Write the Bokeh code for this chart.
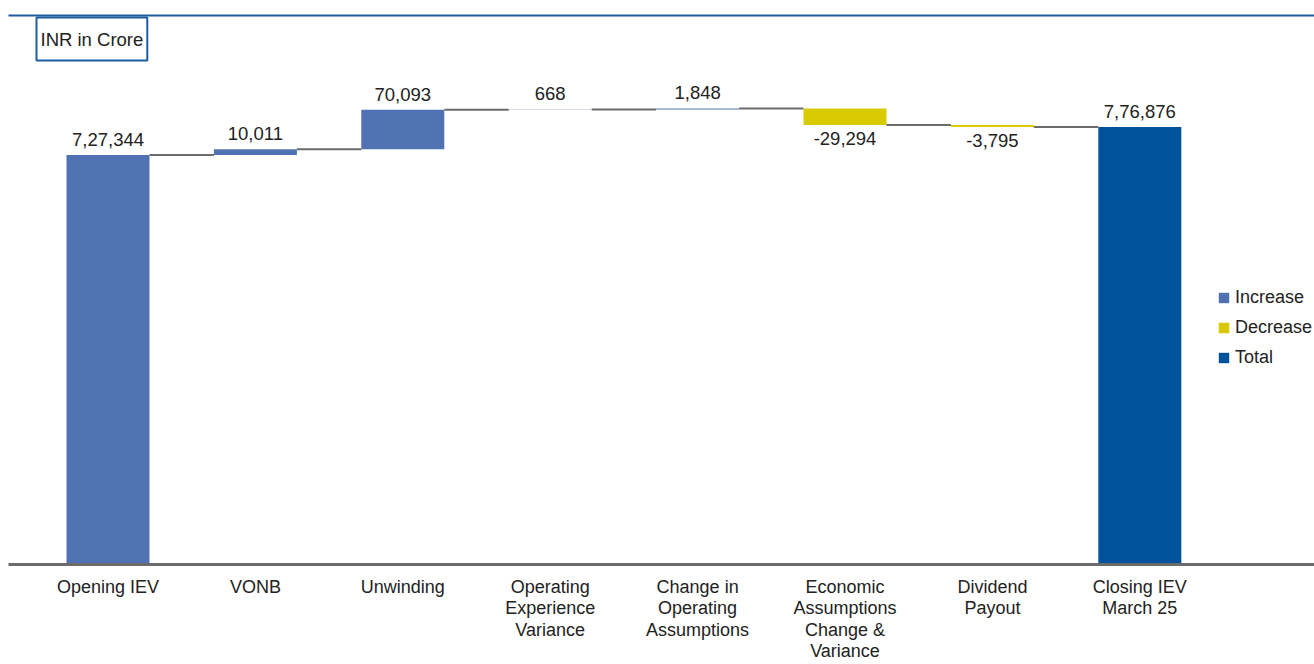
from bokeh.plotting import figure
from bokeh.models import (ColumnDataSource, LabelSet, Label, Legend, LegendItem,
                          FixedTicker, LinearAxis, Range1d)
from bokeh.core.properties import value
from bokeh.embed import file_html
from bokeh.resources import INLINE

# ---------------- data ----------------
categories = ["Opening IEV", "VONB", "Unwinding", "Operating\nExperience\nVariance",
              "Change in\nOperating\nAssumptions", "Economic\nAssumptions\nChange &\nVariance",
              "Dividend\nPayout", "Closing IEV\nMarch 25"]
opening_value = 727344
change_values = [10011, 70093, 668, 1848, -29294, -3795]
closing_value = 776876
legend_names = ["Increase", "Decrease", "Total"]

# ---------------- styles ----------------
C_INC = "#5072B3"
C_DEC = "#D8C900"
C_TOT = "#00529B"
C_LINE = "#6B6B6B"
C_BLUE = "#1B5CA3"
TXT = "#222222"
FONT = "Liberation Sans"
BAR_W = 0.563


def indian(n):
    s = str(abs(n))
    if len(s) > 3:
        head, tail = s[:-3], s[-3:]
        groups = []
        while len(head) > 2:
            groups.insert(0, head[-2:])
            head = head[:-2]
        if head:
            groups.insert(0, head)
        s = ",".join(groups + [tail])
    return ("-" if n < 0 else "") + s


# build waterfall geometry from values
inc = dict(x=[0], bottom=[0], top=[opening_value])
dec = dict(x=[], bottom=[], top=[])
tot = dict(x=[len(categories) - 1], bottom=[0], top=[closing_value])
levels = [opening_value]
up = dict(x=[0], y=[opening_value], t=[indian(opening_value)])
down = dict(x=[], y=[], t=[])
level = opening_value
for i, c in enumerate(change_values, start=1):
    b, t = min(level, level + c), max(level, level + c)
    d = inc if c >= 0 else dec
    d["x"].append(i); d["bottom"].append(b); d["top"].append(t)
    if c >= 0:
        up["x"].append(i); up["y"].append(t); up["t"].append(indian(c))
    else:
        down["x"].append(i); down["y"].append(b); down["t"].append(indian(c))
    level += c
    levels.append(level)
up["x"].append(len(categories) - 1); up["y"].append(closing_value); up["t"].append(indian(closing_value))

conn = dict(x0=[i + BAR_W / 2 for i in range(len(levels))],
            x1=[i + 1 - BAR_W / 2 for i in range(len(levels))],
            y=levels)

p = figure(width=1314, height=664, output_backend="svg", toolbar_location=None,
           x_range=Range1d(-0.675, 8.185), y_range=Range1d(0, 975000),
           y_axis_location=None, min_border_left=8, min_border_right=0,
           min_border_top=15, min_border_bottom=0)
p.outline_line_color = None
p.grid.visible = False
p.background_fill_color = "white"

r_inc = p.vbar(x="x", bottom="bottom", top="top", width=BAR_W, source=ColumnDataSource(inc),
               fill_color=C_INC, line_color=None)
r_dec = p.vbar(x="x", bottom="bottom", top="top", width=BAR_W, source=ColumnDataSource(dec),
               fill_color=C_DEC, line_color=None)
r_tot = p.vbar(x="x", bottom="bottom", top="top", width=BAR_W, source=ColumnDataSource(tot),
               fill_color=C_TOT, line_color=None)
p.segment(x0="x0", x1="x1", y0="y", y1="y", source=ColumnDataSource(conn),
          line_color=C_LINE, line_width=2)

p.add_layout(LabelSet(x="x", y="y", text="t", source=ColumnDataSource(up), y_offset=9,
                      text_align="center", text_baseline="bottom", text_font=value(FONT),
                      text_font_size=value("18.5px"), text_color=TXT))
p.add_layout(LabelSet(x="x", y="y", text="t", source=ColumnDataSource(down), y_offset=-7,
                      text_align="center", text_baseline="top", text_font=value(FONT),
                      text_font_size=value("18.5px"), text_color=TXT))

# x axis
xa = p.xaxis[0]
xa.ticker = FixedTicker(ticks=list(range(len(categories))))
xa.major_label_overrides = {i: c for i, c in enumerate(categories)}
xa.axis_line_color = C_LINE
xa.axis_line_width = 3
xa.major_tick_line_color = None
xa.minor_tick_line_color = None
xa.major_tick_out = 0
xa.major_tick_in = 0
xa.major_label_standoff = 12
xa.major_label_text_font = FONT
xa.major_label_text_font_size = "18px"
xa.major_label_text_line_height = 1.08
xa.major_label_text_color = TXT

# top blue rule
top_axis = LinearAxis(ticker=FixedTicker(ticks=[]), axis_line_color=C_BLUE, axis_line_width=2,
                      major_tick_line_color=None, minor_tick_line_color=None,
                      major_tick_out=0, major_tick_in=0, minor_tick_out=0, minor_tick_in=0,
                      major_label_standoff=0, major_label_text_font_size="0px")
p.add_layout(top_axis, "above")

# unit box
p.add_layout(Label(x=28, y=547, x_units="screen", y_units="screen", text="INR in Crore",
                   text_align="left", text_baseline="top", text_font=FONT,
                   text_font_size="18.5px", text_color=TXT, border_line_color=C_BLUE,
                   border_line_width=2, background_fill_color="white", padding=(4, 11)))

legend = Legend(items=[LegendItem(label=legend_names[0], renderers=[r_inc]),
                       LegendItem(label=legend_names[1], renderers=[r_dec]),
                       LegendItem(label=legend_names[2], renderers=[r_tot])],
                location=(1209, 196), glyph_width=13, glyph_height=13, label_height=20,
                spacing=9, padding=0, margin=0, label_standoff=5,
                label_text_font=FONT, label_text_font_size="18px", label_text_color=TXT,
                border_line_color=None, background_fill_alpha=0)
p.add_layout(legend)

open("out.html", "w").write(file_html(p, INLINE))
